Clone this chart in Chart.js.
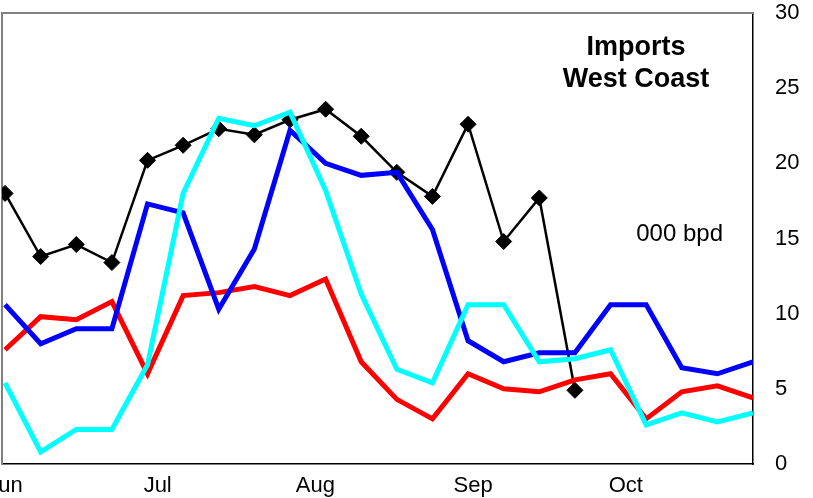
<!DOCTYPE html>
<html><head><meta charset="utf-8">
<script src="https://cdn.jsdelivr.net/npm/chart.js@4.4.0/dist/chart.umd.min.js"></script>
<style>html,body{margin:0;padding:0;background:#fff;overflow:hidden;width:813px;height:498px;}
#c{position:absolute;left:-40px;top:-20px;}</style></head>
<body><canvas id="c" width="853" height="518"></canvas>
<script>
const weekDays = [0,7,14,21,28,35,42,49,56,63,70,77,84,91,98,105,112,119,126,133,140,147];
const tickDays = [0,30,61,92,122];
const tickLabels = ['Jun','Jul','Aug','Sep','Oct'];
const yTicks = [0,5,10,15,20,25,30];
const blackSeries = [18.0,13.8,14.6,13.4,20.2,21.2,22.3,21.9,22.9,23.6,21.8,19.4,17.8,22.6,14.8,17.7,4.9];
const blueSeries = [10.6,8.0,9.0,9.0,17.3,16.7,10.3,14.3,22.2,20.0,19.2,19.4,15.6,8.2,6.8,7.4,7.4,10.6,10.6,6.4,6.0,6.8];
const redSeries = [7.6,9.8,9.6,10.8,6.0,11.2,11.4,11.8,11.2,12.3,6.8,4.3,3.0,6.0,5.0,4.8,5.6,6.0,3.0,4.8,5.2,4.4];
const cyanSeries = [5.4,0.8,2.3,2.3,6.6,18.0,23.0,22.5,23.4,18.2,11.3,6.3,5.4,10.6,10.6,6.8,7.0,7.6,2.6,3.4,2.8,3.4];
const titleLines = ['Imports','West Coast'];
const unitLabel = '000 bpd';

const FONT = "'Liberation Sans', Arial, sans-serif";
const pts = arr => arr.map((v,i)=>({x:weekDays[i], y:v}));

const overlay = {
  id:'overlay',
  beforeDatasetsDraw(chart){
    const {ctx, chartArea:a} = chart;
    ctx.save();
    ctx.strokeStyle = '#808080';
    ctx.lineWidth = 2;
    ctx.beginPath();
    ctx.moveTo(a.left, a.bottom);
    ctx.lineTo(a.left, a.top);
    ctx.lineTo(a.right, a.top);
    ctx.stroke();
    ctx.restore();
  },
  afterDraw(chart){
    const {ctx, chartArea:a} = chart;
    ctx.save();
    ctx.fillStyle = '#000';
    ctx.textAlign = 'center';
    ctx.textBaseline = 'alphabetic';
    ctx.font = "bold 27px " + FONT;
    ctx.fillText(titleLines[0], a.right - 117, a.top + 42);
    ctx.fillText(titleLines[1], a.right - 117, a.top + 74);
    ctx.font = "24px " + FONT;
    ctx.textAlign = 'right';
    ctx.fillText(unitLabel, a.right - 30, a.top + 228);
    ctx.restore();
  }
};

new Chart(document.getElementById('c'), {
  type:'line',
  data:{
    datasets:[
      {label:'Total', data:pts(blackSeries), borderColor:'#000', backgroundColor:'#000', borderWidth:2.5,
       pointStyle:'rectRot', pointRadius:8, pointBorderWidth:1, pointBackgroundColor:'#000', pointBorderColor:'#000', order:4, tension:0},
      {label:'Red', data:pts(redSeries), borderColor:'#ff0000', borderWidth:5, pointRadius:0, order:3, tension:0},
      {label:'Blue', data:pts(blueSeries), borderColor:'#0000ff', borderWidth:5, pointRadius:0, order:2, tension:0},
      {label:'Cyan', data:pts(cyanSeries), borderColor:'#00ffff', borderWidth:5, pointRadius:0, order:1, tension:0}
    ]
  },
  options:{
    responsive:false, animation:false, devicePixelRatio:1,
    layout:{padding:{left:42, top:13, right:0, bottom:0}},
    plugins:{legend:{display:false}, tooltip:{enabled:false}, title:{display:false}},
    elements:{line:{borderJoinStyle:'miter', borderCapStyle:'butt'}},
    scales:{
      x:{type:'linear', min:-0.6, max:147,
        afterBuildTicks: s => { s.ticks = tickDays.map(v=>({value:v})); },
        ticks:{autoSkip:false, maxRotation:0, padding:11, color:'#000', font:{family:FONT, size:22, lineHeight:1},
          callback:(v,i)=>tickLabels[i]},
        grid:{display:false, drawTicks:false},
        border:{display:true, color:'#000', width:1.5},
        afterFit: s => { s.height = 34; }
      },
      y:{type:'linear', position:'right', min:0, max:30,
        afterBuildTicks: s => { s.ticks = yTicks.map(v=>({value:v})); },
        ticks:{padding:22, color:'#000', font:{family:FONT, size:22, lineHeight:1}},
        grid:{display:false, drawTicks:false},
        border:{display:true, color:'#000', width:1.5},
        afterFit: s => { s.width = 60; }
      }
    }
  },
  plugins:[overlay]
});
</script></body></html>
